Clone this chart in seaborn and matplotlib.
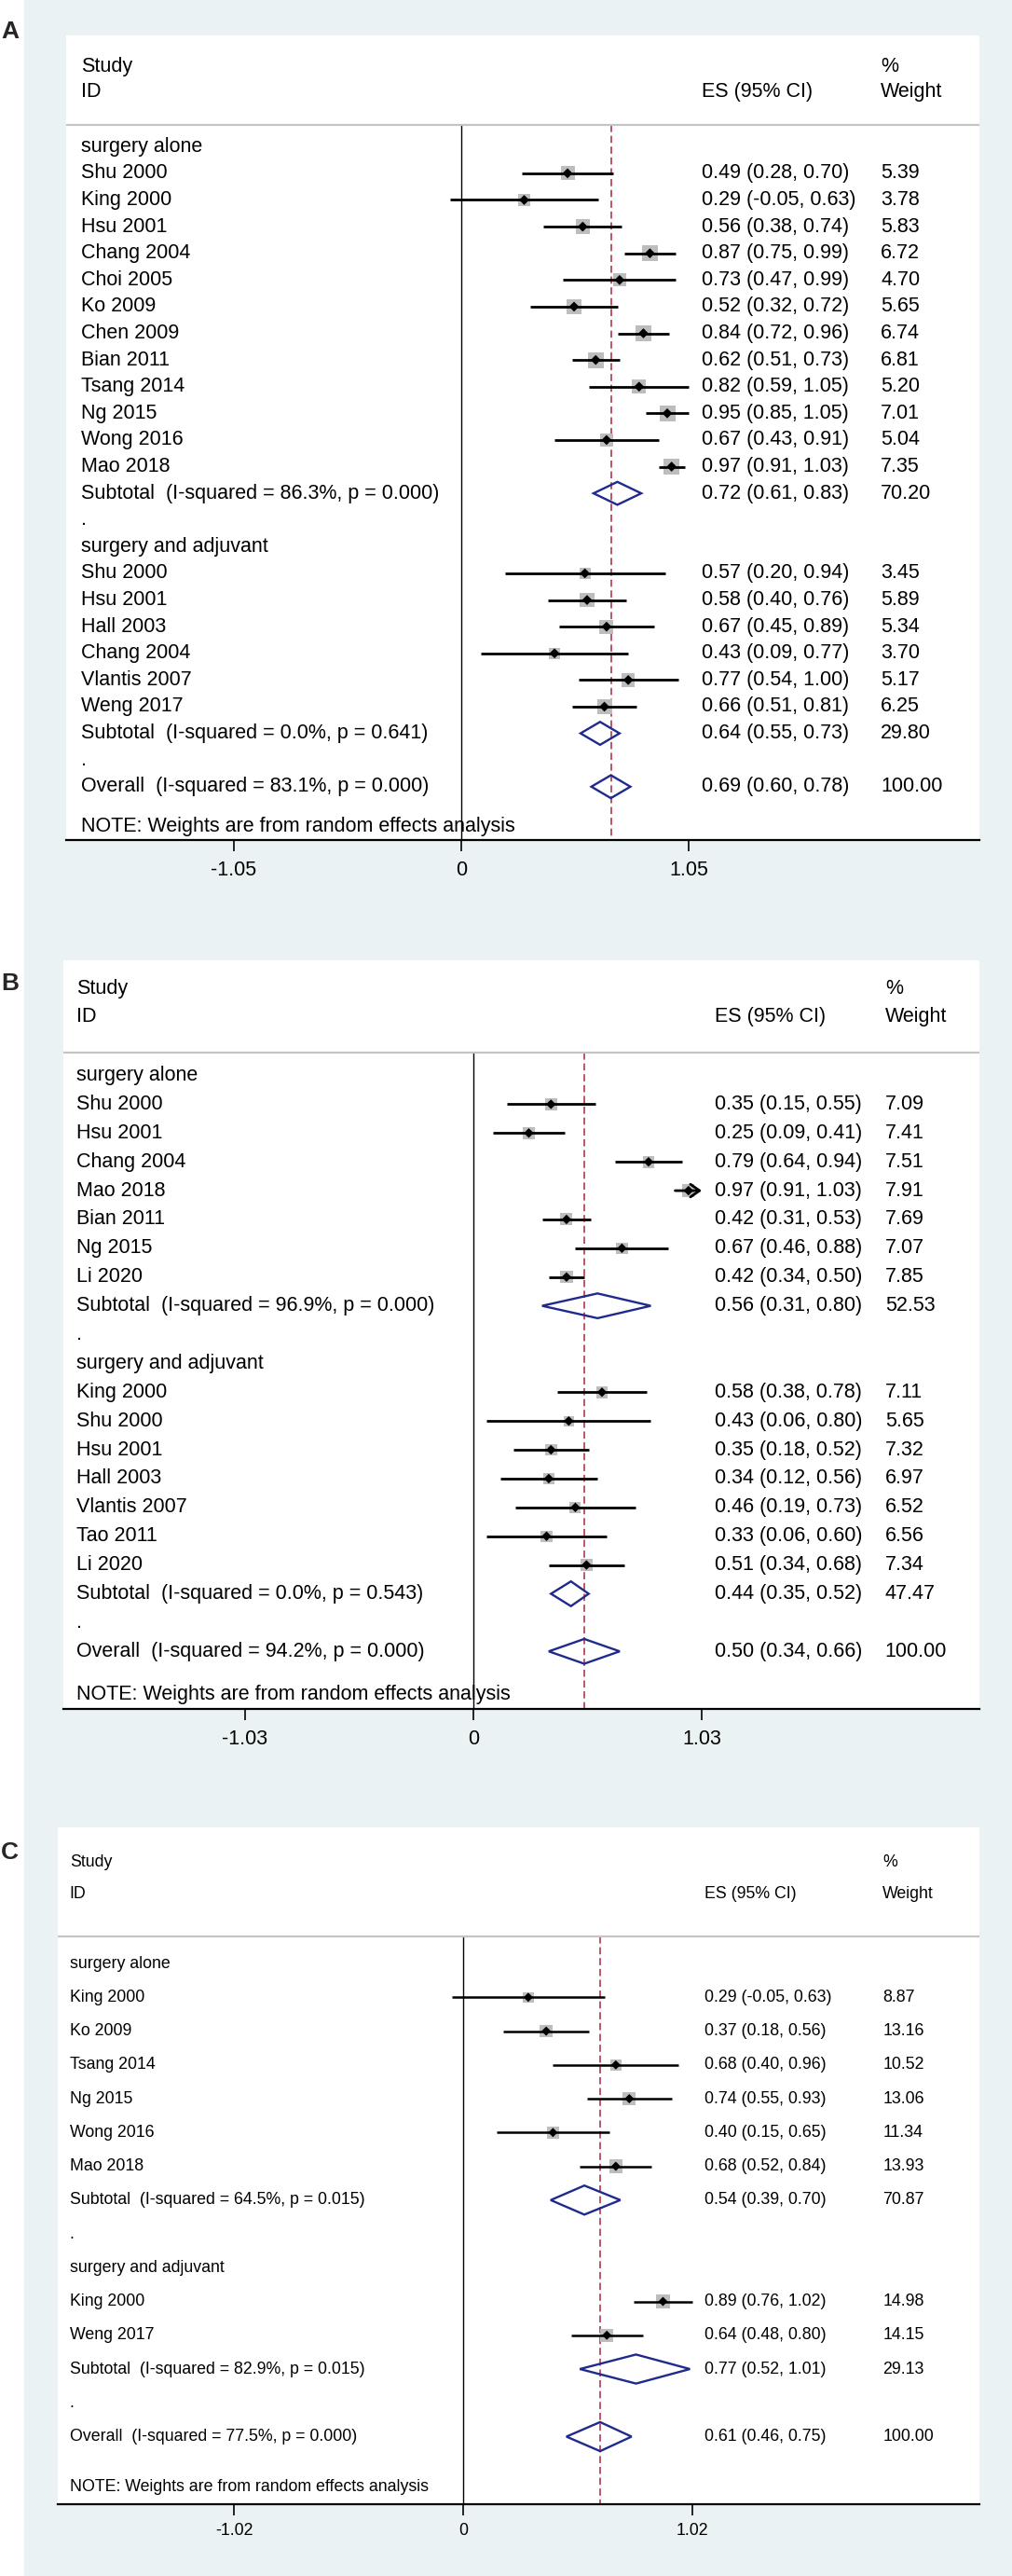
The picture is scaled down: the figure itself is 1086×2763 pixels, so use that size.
import matplotlib
matplotlib.use("Agg")
import matplotlib.pyplot as plt
import matplotlib.transforms as mtransforms
from matplotlib.patches import Polygon, Rectangle
import pandas as pd
import seaborn as sns

sns.set_theme(style="white")
plt.rcParams["font.family"] = ["Liberation Sans", "DejaVu Sans"]

GROUPS = ["surgery alone", "surgery and adjuvant"]
NOTE = "NOTE: Weights are from random effects analysis"

# ---------------- panel A ----------------
a1_names = ["Shu 2000", "King 2000", "Hsu 2001", "Chang 2004", "Choi 2005", "Ko 2009",
            "Chen 2009", "Bian 2011", "Tsang 2014", "Ng 2015", "Wong 2016", "Mao 2018"]
a1_es = [0.49, 0.29, 0.56, 0.87, 0.73, 0.52, 0.84, 0.62, 0.82, 0.95, 0.67, 0.97]
a1_lo = [0.28, -0.05, 0.38, 0.75, 0.47, 0.32, 0.72, 0.51, 0.59, 0.85, 0.43, 0.91]
a1_hi = [0.70, 0.63, 0.74, 0.99, 0.99, 0.72, 0.96, 0.73, 1.05, 1.05, 0.91, 1.03]
a1_wt = [5.39, 3.78, 5.83, 6.72, 4.70, 5.65, 6.74, 6.81, 5.20, 7.01, 5.04, 7.35]

a2_names = ["Shu 2000", "Hsu 2001", "Hall 2003", "Chang 2004", "Vlantis 2007", "Weng 2017"]
a2_es = [0.57, 0.58, 0.67, 0.43, 0.77, 0.66]
a2_lo = [0.20, 0.40, 0.45, 0.09, 0.54, 0.51]
a2_hi = [0.94, 0.76, 0.89, 0.77, 1.00, 0.81]
a2_wt = [3.45, 5.89, 5.34, 3.70, 5.17, 6.25]

a_sub_es = [0.72, 0.64]
a_sub_lo = [0.61, 0.55]
a_sub_hi = [0.83, 0.73]
a_sub_wt = [70.20, 29.80]
a_sub_i2 = ["86.3%", "0.0%"]
a_sub_p = ["0.000", "0.641"]
a_all = [0.69, 0.60, 0.78, 100.00]
a_all_i2, a_all_p = "83.1%", "0.000"
a_ticks = [-1.05, 0, 1.05]
a_ticklabels = ["-1.05", "0", "1.05"]

# ---------------- panel B ----------------
b1_names = ["Shu 2000", "Hsu 2001", "Chang 2004", "Mao 2018", "Bian 2011", "Ng 2015", "Li 2020"]
b1_es = [0.35, 0.25, 0.79, 0.97, 0.42, 0.67, 0.42]
b1_lo = [0.15, 0.09, 0.64, 0.91, 0.31, 0.46, 0.34]
b1_hi = [0.55, 0.41, 0.94, 1.03, 0.53, 0.88, 0.50]
b1_wt = [7.09, 7.41, 7.51, 7.91, 7.69, 7.07, 7.85]
b1_clipped = [False, False, False, True, False, False, False]

b2_names = ["King 2000", "Shu 2000", "Hsu 2001", "Hall 2003", "Vlantis 2007", "Tao 2011", "Li 2020"]
b2_es = [0.58, 0.43, 0.35, 0.34, 0.46, 0.33, 0.51]
b2_lo = [0.38, 0.06, 0.18, 0.12, 0.19, 0.06, 0.34]
b2_hi = [0.78, 0.80, 0.52, 0.56, 0.73, 0.60, 0.68]
b2_wt = [7.11, 5.65, 7.32, 6.97, 6.52, 6.56, 7.34]

b_sub_es = [0.56, 0.44]
b_sub_lo = [0.31, 0.35]
b_sub_hi = [0.80, 0.52]
b_sub_wt = [52.53, 47.47]
b_sub_i2 = ["96.9%", "0.0%"]
b_sub_p = ["0.000", "0.543"]
b_all = [0.50, 0.34, 0.66, 100.00]
b_all_i2, b_all_p = "94.2%", "0.000"
b_ticks = [-1.03, 0, 1.03]
b_ticklabels = ["-1.03", "0", "1.03"]

# ---------------- panel C ----------------
c1_names = ["King 2000", "Ko 2009", "Tsang 2014", "Ng 2015", "Wong 2016", "Mao 2018"]
c1_es = [0.29, 0.37, 0.68, 0.74, 0.40, 0.68]
c1_lo = [-0.05, 0.18, 0.40, 0.55, 0.15, 0.52]
c1_hi = [0.63, 0.56, 0.96, 0.93, 0.65, 0.84]
c1_wt = [8.87, 13.16, 10.52, 13.06, 11.34, 13.93]

c2_names = ["King 2000", "Weng 2017"]
c2_es = [0.89, 0.64]
c2_lo = [0.76, 0.48]
c2_hi = [1.02, 0.80]
c2_wt = [14.98, 14.15]

c_sub_es = [0.54, 0.77]
c_sub_lo = [0.39, 0.52]
c_sub_hi = [0.70, 1.01]
c_sub_wt = [70.87, 29.13]
c_sub_i2 = ["64.5%", "82.9%"]
c_sub_p = ["0.015", "0.015"]
c_all = [0.61, 0.46, 0.75, 100.00]
c_all_i2, c_all_p = "77.5%", "0.000"
c_ticks = [-1.02, 0, 1.02]
c_ticklabels = ["-1.02", "0", "1.02"]

W, H = 1086, 2763
BG = "#eaf2f3"
NAVY = "#1f2a8c"
RED = "#a8283f"
GREY = "#bdbdbd"


def build_rows(groups, subs, overall):
    """Stack groups, subtotals and overall into one table with row index."""
    recs = []
    r = 0
    for gi, (names, es, lo, hi, wt, clip) in enumerate(groups):
        recs.append(dict(kind="group", row=r, label=GROUPS[gi]))
        r += 1
        for n, e, l, h, w, c in zip(names, es, lo, hi, wt, clip):
            recs.append(dict(kind="study", row=r, label=n, es=e, lo=l, hi=h, wt=w, clip=c))
            r += 1
        s_es, s_lo, s_hi, s_wt, s_i2, s_p = [v[gi] for v in subs]
        recs.append(dict(kind="sub", row=r, label=f"Subtotal  (I-squared = {s_i2}, p = {s_p})",
                         es=s_es, lo=s_lo, hi=s_hi, wt=s_wt))
        r += 1
        recs.append(dict(kind="blank", row=r, label="."))
        r += 1
    o_es, o_lo, o_hi, o_wt, o_i2, o_p = overall
    recs.append(dict(kind="overall", row=r, label=f"Overall  (I-squared = {o_i2}, p = {o_p})",
                     es=o_es, lo=o_lo, hi=o_hi, wt=o_wt))
    return pd.DataFrame(recs)


def draw_panel(ax, df, ticks, ticklabels, lay):
    last = df["row"].max()
    bottom = last + 2.0
    fs = lay["fs"]
    studies = df[df["kind"] == "study"].copy()

    # CI lines (clipped ones end in an arrow)
    for _, s in studies.iterrows():
        if s["clip"]:
            ax.annotate("", xy=(s["hi"], s["row"]), xytext=(s["lo"], s["row"]),
                        arrowprops=dict(arrowstyle="->,head_length=0.5,head_width=0.35",
                                        lw=lay["ci_lw"], color="black",
                                        shrinkA=0, shrinkB=0, mutation_scale=14), zorder=3)
        else:
            ax.hlines(s["row"], s["lo"], s["hi"], color="black", lw=lay["ci_lw"], zorder=3)

    # weight boxes and point estimates
    sns.scatterplot(data=studies, x="es", y="row", s=studies["wt"] * lay["box_k"], marker="s",
                    color=GREY, edgecolor="none", linewidth=0, ax=ax, legend=False, zorder=2)
    sns.scatterplot(data=studies, x="es", y="row", marker="D", s=lay["dot_s"], color="black",
                    edgecolor="none", linewidth=0, ax=ax, legend=False, zorder=4)

    # pooled diamonds
    for _, s in df[df["kind"].isin(["sub", "overall"])].iterrows():
        hh = 0.43
        pts = [(s["lo"], s["row"]), (s["es"], s["row"] - hh), (s["hi"], s["row"]), (s["es"], s["row"] + hh)]
        ax.add_patch(Polygon(pts, closed=True, fill=False, edgecolor=NAVY, lw=1.7, zorder=3))

    overall_es = df[df["kind"] == "overall"]["es"].iloc[0]
    ax.vlines(0, -0.8, bottom, color="black", lw=1.0, zorder=1)
    ax.vlines(overall_es, -0.8, bottom, color=RED, lw=1.1, linestyles=(0, (5, 2.6)), zorder=1)
    ax.axhline(-0.8, color="#c4c4c4", lw=1.6, zorder=1)

    tr = mtransforms.blended_transform_factory(ax.transAxes, ax.transData)
    tx = dict(transform=tr, va="center", ha="left", fontsize=fs, color="black")
    ax.text(lay["lab"], -3.0, "Study", **tx)
    ax.text(lay["lab"], -2.05, "ID", **tx)
    ax.text(lay["es"], -2.05, "ES (95% CI)", **tx)
    ax.text(lay["wt"], -3.0, "%", **tx)
    ax.text(lay["wt"], -2.05, "Weight", **tx)
    for _, s in df.iterrows():
        ax.text(lay["lab"], s["row"], s["label"], **tx)
        if s["kind"] in ("study", "sub", "overall"):
            ax.text(lay["es"], s["row"], f"{s['es']:.2f} ({s['lo']:.2f}, {s['hi']:.2f})", **tx)
            ax.text(lay["wt"], s["row"], f"{s['wt']:.2f}", **tx)
    ax.text(lay["lab"], last + 1.5, NOTE, **tx)

    ax.set_xlim(lay["xlim"])
    ax.set_ylim(bottom, lay["top"])
    ax.set_xticks(ticks)
    ax.set_xticklabels(ticklabels)
    ax.set_yticks([])
    ax.set_xlabel("")
    ax.set_ylabel("")
    for side in ("top", "left", "right"):
        ax.spines[side].set_visible(False)
    ax.spines["bottom"].set_color("black")
    ax.spines["bottom"].set_linewidth(1.6)
    ax.tick_params(axis="x", bottom=True, direction="out", length=8.5, width=1.2,
                   pad=lay["pad"], labelsize=fs, colors="black")
    ax.set_facecolor("white")


fig = plt.figure(figsize=(W / 100, H / 100), dpi=100)
fig.patch.set_facecolor("white")
fig.add_artist(Rectangle((26 / W, 0), 1, 1, transform=fig.transFigure, color=BG, zorder=0))

panels = [
    ("A", build_rows([(a1_names, a1_es, a1_lo, a1_hi, a1_wt, [False] * len(a1_names)),
                      (a2_names, a2_es, a2_lo, a2_hi, a2_wt, [False] * len(a2_names))],
                     [a_sub_es, a_sub_lo, a_sub_hi, a_sub_wt, a_sub_i2, a_sub_p],
                     a_all + [a_all_i2, a_all_p]),
     a_ticks, a_ticklabels,
     dict(box=(71, 38, 1051, 901), xlim=(-1.823, 2.390), top=-4.17, fs=15.5, pad=7,
          lab=0.0163, es=0.696, wt=0.892, box_k=21.5, dot_s=30, ci_lw=2.0), 34),
    ("B", build_rows([(b1_names, b1_es, b1_lo, b1_hi, b1_wt, b1_clipped),
                      (b2_names, b2_es, b2_lo, b2_hi, b2_wt, [False] * len(b2_names))],
                     [b_sub_es, b_sub_lo, b_sub_hi, b_sub_wt, b_sub_i2, b_sub_p],
                     b_all + [b_all_i2, b_all_p]),
     b_ticks, b_ticklabels,
     dict(box=(68, 1030, 1051, 1833), xlim=(-1.849, 2.282), top=-4.0, fs=15.5, pad=7,
          lab=0.0139, es=0.711, wt=0.897, box_k=11.5, dot_s=28, ci_lw=2.0), 1055),
    ("C", build_rows([(c1_names, c1_es, c1_lo, c1_hi, c1_wt, [False] * len(c1_names)),
                      (c2_names, c2_es, c2_lo, c2_hi, c2_wt, [False] * len(c2_names))],
                     [c_sub_es, c_sub_lo, c_sub_hi, c_sub_wt, c_sub_i2, c_sub_p],
                     c_all + [c_all_i2, c_all_p]),
     c_ticks, c_ticklabels,
     dict(box=(62, 1960, 1051, 2686), xlim=(-1.805, 2.299), top=-4.03, fs=12.8, pad=6,
          lab=0.013, es=0.702, wt=0.895, box_k=7.5, dot_s=26, ci_lw=1.8), 1987),
]

for letter, df, ticks, tlabels, lay, ly in panels:
    x0, y0, x1, y1 = lay["box"]
    ax = fig.add_axes([x0 / W, 1 - y1 / H, (x1 - x0) / W, (y1 - y0) / H])
    ax.set_zorder(2)
    draw_panel(ax, df, ticks, tlabels, lay)
    fig.text(0.001, 1 - ly / H, letter, fontsize=19, fontweight="bold", va="center", ha="left")

fig.savefig("out.png", dpi=100, facecolor=fig.get_facecolor())
